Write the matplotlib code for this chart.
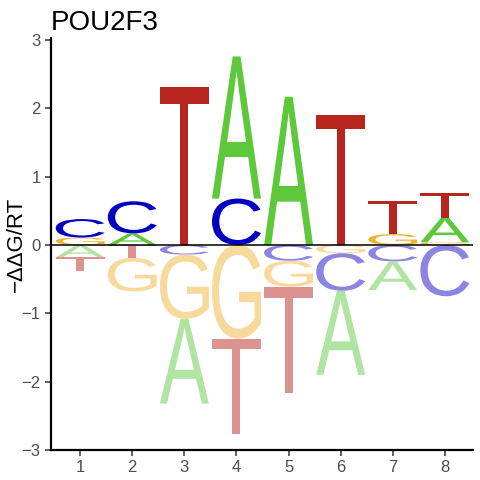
import matplotlib
matplotlib.use("Agg")
import matplotlib.pyplot as plt
from matplotlib.textpath import TextPath
from matplotlib.patches import PathPatch
from matplotlib.font_manager import FontProperties
from matplotlib.path import Path

positions = [1, 2, 3, 4, 5, 6, 7, 8]

# letters stacked away from zero, nearest first
pos_letters = [["G", "C"], ["A", "C"], ["T"], ["C", "A"], ["A"], ["T"], ["G", "T"], ["G", "A", "T"]]
pos_heights = [[0.11, 0.27], [0.17, 0.47], [2.32], [0.68, 2.08], [2.17], [1.91], [0.16, 0.49], [0.04, 0.36, 0.36]]

neg_letters = [["A", "T"], ["T", "G"], ["C", "G", "A"], ["G", "T"], ["C", "G", "T"], ["G", "C", "A"], ["C", "A"], ["C"]]
neg_heights = [[0.18, 0.20], [0.19, 0.49], [0.14, 0.94, 1.24], [1.37, 1.39], [0.23, 0.38, 1.56], [0.12, 0.55, 1.23], [0.24, 0.42], [0.75]]

colors = {"A": "#5cc83a", "C": "#0000c0", "G": "#f0b030", "T": "#b8251e"}
light = {"A": "#b0e4a2", "C": "#8b84e2", "G": "#f8d99c", "T": "#dc928e"}

fp = FontProperties(family="Liberation Sans")
letter_w = 0.94


def draw_letter(ax, ch, x, y0, y1, color):
    tp = TextPath((0, 0), ch, size=1, prop=fp)
    ext = tp.get_extents()
    verts = tp.vertices.copy()
    verts[:, 0] = (verts[:, 0] - ext.x0) / ext.width * letter_w + x - letter_w / 2
    verts[:, 1] = (verts[:, 1] - ext.y0) / ext.height * (y1 - y0) + y0
    ax.add_patch(PathPatch(Path(verts, tp.codes), facecolor=color, edgecolor="none"))


fig = plt.figure(figsize=(4.8, 4.8), dpi=100)
ax = fig.add_axes([51 / 480, 30 / 480, 422 / 480, 412 / 480])

for i, x in enumerate(positions):
    y = 0.0
    for ch, h in zip(pos_letters[i], pos_heights[i]):
        draw_letter(ax, ch, x, y, y + h, colors[ch])
        y += h
    y = 0.0
    for ch, h in zip(neg_letters[i], neg_heights[i]):
        draw_letter(ax, ch, x, y - h, y, light[ch])
        y -= h

ax.axhline(0, color="black", lw=1.1)
ax.set_xlim(0.44, 8.54)
ax.set_ylim(-3.0, 3.03)
ax.set_xticks(positions)
ax.set_yticks([-3, -2, -1, 0, 1, 2, 3])
for s in ["top", "right"]:
    ax.spines[s].set_visible(False)
for s in ["left", "bottom"]:
    ax.spines[s].set_linewidth(1.6)
ax.tick_params(length=4, width=1.1, color="#333333", labelcolor="#4d4d4d",
               labelsize=12)
for lab in ax.get_xticklabels() + ax.get_yticklabels():
    lab.set_family("Liberation Sans")
ax.set_ylabel("\u2212\u0394\u0394G/RT", fontsize=16, family="Liberation Sans")
ax.yaxis.set_label_coords(-0.058, 0.5)
ax.set_title("POU2F3", loc="left", fontsize=20, family="Liberation Sans", pad=6)

fig.savefig("out.png", dpi=100)
